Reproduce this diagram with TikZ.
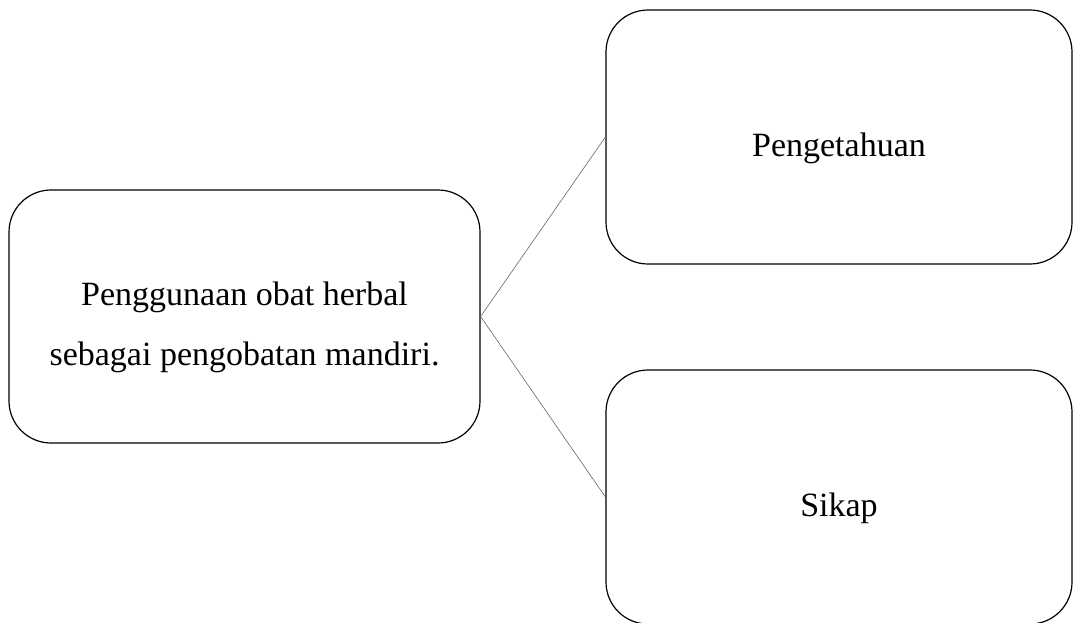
\documentclass[tikz,border=0pt]{standalone}
\usepackage{fontspec}
\setmainfont{Liberation Serif}
\tikzset{kotak/.style={draw, rounded corners=42pt, line width=1.2pt, minimum width=466pt, minimum height=254pt, inner sep=0pt}}
\tikzset{teks/.style={align=center, inner sep=0pt}}
\tikzset{garis/.style={draw=black!60, line width=.6pt}}

\begin{document}
\begin{tikzpicture}[x=1pt,y=-1pt,font=\fontsize{34}{60}\selectfont]
        \useasboundingbox (0,0) rectangle (1073,622);

        \node[kotak, minimum width=471pt, minimum height=253pt] (obat) at (244.5,316.5) {};
        \node[kotak] (tahu) at (839,137) {};
        \node[kotak] (sikap) at (839,497) {};

        \node[teks] (obat-teks) at (244.5,327.5) {Penggunaan obat herbal\\sebagai pengobatan mandiri.};
        \node[teks] (tahu-teks) at (839,148) {Pengetahuan};
        \node[teks] (sikap-teks) at (839,508) {Sikap};

        \draw[garis] (obat.east) -- (tahu.west);
        \draw[garis] (obat.east) -- (sikap.west);
\end{tikzpicture}
\end{document}
